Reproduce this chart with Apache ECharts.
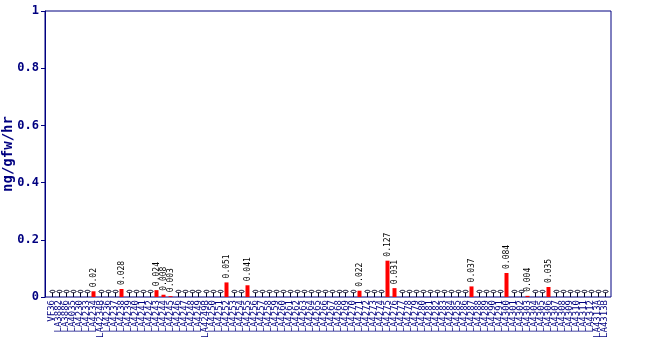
<!DOCTYPE html>
<html>
<head>
<meta charset="utf-8">
<script src="https://cdn.jsdelivr.net/npm/echarts@6/dist/echarts.min.js"></script>
<style>
  html, body { margin: 0; padding: 0; background: #ffffff; }
  #chart { width: 650px; height: 350px; }
</style>
</head>
<body>
<div id="chart"></div>
<script>
// Lines (genotypes) along the x axis
const lines = [
  'VF36', 'LA3882', 'LA3886', 'LA4035', 'LA4230', 'LA4233', 'LA4234', 'LA4234B',
  'LA4236', 'LA4237', 'LA4238', 'LA4239', 'LA4240', 'LA4241', 'LA4242', 'LA4243',
  'LA4244', 'LA4245', 'LA4246', 'LA4247', 'LA4248', 'LA4249', 'LA4249B', 'LA4250',
  'LA4251', 'LA4252', 'LA4253', 'LA4254', 'LA4255', 'LA4256', 'LA4257', 'LA4258',
  'LA4259', 'LA4260', 'LA4261', 'LA4262', 'LA4263', 'LA4264', 'LA4265', 'LA4266',
  'LA4267', 'LA4268', 'LA4269', 'LA4270', 'LA4271', 'LA4272', 'LA4273', 'LA4274',
  'LA4275', 'LA4276', 'LA4277', 'LA4278', 'LA4279', 'LA4280', 'LA4281', 'LA4282',
  'LA4283', 'LA4284', 'LA4285', 'LA4286', 'LA4287', 'LA4288', 'LA4289', 'LA4290',
  'LA4291', 'LA4300', 'LA4301', 'LA4302', 'LA4303', 'LA4304', 'LA4305', 'LA4306',
  'LA4307', 'LA4308', 'LA4309', 'LA4310', 'LA4311', 'LA4312', 'LA4313A', 'LA4313B'
];

// Emission rate per line (ng/gfw/hr); 0 = not detected
const rates = [
  0, 0, 0, 0, 0, 0, 0.02, 0,
  0, 0, 0.028, 0, 0, 0, 0, 0.024,
  0.008, 0.003, 0, 0, 0, 0, 0, 0,
  0, 0.051, 0, 0, 0.041, 0, 0, 0,
  0, 0, 0, 0, 0, 0, 0, 0,
  0, 0, 0, 0, 0.022, 0, 0, 0,
  0.127, 0.031, 0, 0, 0, 0, 0, 0,
  0, 0, 0, 0, 0.037, 0, 0, 0,
  0, 0.084, 0, 0, 0.004, 0, 0, 0.035,
  0, 0, 0, 0, 0, 0, 0, 0
];

// Y axis range and step
const yMin = 0, yMax = 1, yStep = 0.2;

const navy = '#000080';
const ink = '#000022';

const barData = rates.map(v => (v > 0 ? v : null));
const zeroPoints = [];
rates.forEach((v, i) => { if (!(v > 0)) zeroPoints.push([i, 0]); });

const chart = echarts.init(document.getElementById('chart'), null, { renderer: 'canvas' });

// oval cap on a short stem, drawn for lines without a detected value
function drawCap(params, api) {
  const p = api.coord([api.value(0), 0]);
  const x = Math.round(p[0]) + 0.5;
  const y = Math.round(p[1]);
  return {
    type: 'group',
    children: [
      { type: 'ellipse', shape: { cx: x, cy: y - 5.5, rx: 2.6, ry: 1.2 },
        style: { fill: 'none', stroke: ink, lineWidth: 1 } },
      { type: 'line', shape: { x1: x, y1: y - 4.3, x2: x, y2: y },
        style: { stroke: ink, lineWidth: 1 } }
    ]
  };
}

chart.setOption({
  animation: false,
  backgroundColor: '#ffffff',
  grid: [
    { left: 45, right: 39, top: 11, bottom: 53, containLabel: false, outerBoundsMode: 'none',
      show: true, borderColor: navy, borderWidth: 1, backgroundColor: 'transparent' },
    { left: 48, right: 42, top: 11, bottom: 53, containLabel: false, outerBoundsMode: 'none' }
  ],
  xAxis: [
    { gridIndex: 0, type: 'value', min: 0, max: 1, show: false },
    {
      gridIndex: 1, type: 'category', data: lines,
      axisLine: { show: false },
      axisTick: { show: false },
      axisLabel: {
        interval: 0, rotate: 90, margin: 3, hideOverlap: false,
        color: navy, fontFamily: 'DejaVu Sans Mono', fontSize: 9
      }
    }
  ],
  yAxis: [
    {
      gridIndex: 0, type: 'value', min: yMin, max: yMax, interval: yStep,
      name: 'ng/gfw/hr', nameLocation: 'middle', nameGap: 30, nameMoveOverlap: false,
      nameTextStyle: { color: navy, fontFamily: 'DejaVu Sans Mono', fontWeight: 'bold', fontSize: 14 },
      axisLine: { show: true, lineStyle: { color: navy } },
      axisTick: { show: true, length: 4, lineStyle: { color: navy } },
      axisLabel: { color: navy, fontFamily: 'DejaVu Sans Mono', fontWeight: 'bold', fontSize: 12, margin: 6 },
      splitLine: { show: false }
    },
    { gridIndex: 1, type: 'value', min: yMin, max: yMax, show: false }
  ],
  series: [
    {
      type: 'bar', xAxisIndex: 1, yAxisIndex: 1,
      data: barData, barWidth: 4,
      itemStyle: { color: '#ff0000' },
      label: {
        show: true, position: 'top', rotate: 90, align: 'left', verticalAlign: 'middle',
        distance: 4, color: '#000000', fontFamily: 'DejaVu Sans Mono', fontSize: 8,
        formatter: p => String(p.value)
      }
    },
    {
      type: 'custom', xAxisIndex: 1, yAxisIndex: 1,
      data: zeroPoints,
      renderItem: drawCap,
      z: 3
    }
  ]
});
</script>
</body>
</html>
